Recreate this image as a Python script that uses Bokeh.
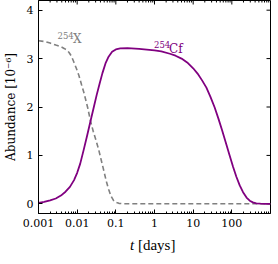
import math
from bokeh.plotting import figure
from bokeh.layouts import column
from bokeh.models import FixedTicker, Label, Div
from bokeh.embed import file_html
from bokeh.resources import INLINE

# ---- data ----
t_x = [0.001, 0.0015, 0.002, 0.0028, 0.0037, 0.0046, 0.0053, 0.0061, 0.0071,
       0.0082, 0.0095, 0.0111, 0.013, 0.0149, 0.017, 0.0188, 0.022, 0.026,
       0.031, 0.036, 0.042, 0.049, 0.057, 0.065, 0.075, 0.087, 0.1, 0.12,
       0.15, 0.2, 1000]
ab_x = [3.37, 3.35, 3.32, 3.28, 3.25, 3.21, 3.18, 3.13, 3.05,
        2.93, 2.80, 2.65, 2.46, 2.30, 2.12, 1.98, 1.72, 1.50,
        1.30, 1.12, 0.90, 0.68, 0.46, 0.30, 0.16, 0.07, 0.03, 0.01,
        0.003, 0.0, 0.0]

t_cf = [0.001, 0.0014, 0.002, 0.0028, 0.0038, 0.005, 0.0065, 0.0083, 0.01,
        0.012, 0.0148, 0.018, 0.022, 0.027, 0.032, 0.038, 0.045, 0.054,
        0.065, 0.08, 0.1, 0.13, 0.2, 0.4, 1, 1.5, 2.5, 3.5, 5, 7, 10, 13,
        17, 22, 28, 36, 45, 56, 70, 87, 108, 131, 160, 195, 240, 290, 350,
        430, 550, 750, 1000]
ab_cf = [0.02, 0.04, 0.07, 0.11, 0.17, 0.25, 0.35, 0.49, 0.64,
         0.83, 1.12, 1.40, 1.70, 2.00, 2.25, 2.48, 2.70, 2.90,
         3.04, 3.14, 3.19, 3.21, 3.215, 3.20, 3.17, 3.15, 3.10, 3.06, 3.00,
         2.92, 2.80, 2.69, 2.55, 2.40, 2.21, 1.99, 1.76, 1.52, 1.26, 1.01,
         0.76, 0.56, 0.38, 0.24, 0.13, 0.065, 0.03, 0.011, 0.003, 0.0, 0.0]

x_ticks = [0.001, 0.01, 0.1, 1, 10, 100]
x_tick_labels = ["0.001", "0.01", "0.1", "1", "10", "100"]
y_ticks = [0, 1, 2, 3, 4]
x_lim = (0.001, 1000)
y_lim = (-0.2, 4.2)

FONT = "DejaVu Serif"
PURPLE = "#800080"
GREY = "#808080"

minor = [m * d for d in [0.001, 0.01, 0.1, 1, 10, 100] for m in range(2, 10)]

p = figure(frame_width=232, frame_height=213, x_axis_type="log",
           x_range=x_lim, y_range=y_lim,
           output_backend="svg", toolbar_location=None,
           min_border_left=30, min_border_right=8, min_border_top=0,
           min_border_bottom=19)
p.background_fill_color = "white"
p.border_fill_color = "white"
p.outline_line_color = "black"
p.outline_line_width = 1
p.xgrid.visible = False
p.ygrid.visible = False

xt = FixedTicker(ticks=x_ticks, minor_ticks=minor)
yt = FixedTicker(ticks=y_ticks, minor_ticks=[])

for ax, tk in ((p.xaxis[0], xt), (p.yaxis[0], yt)):
    ax.ticker = tk
    ax.major_tick_in = 4
    ax.major_tick_out = 0
    ax.minor_tick_in = 2
    ax.minor_tick_out = 0
    ax.axis_line_color = "black"
    ax.major_tick_line_color = "black"
    ax.minor_tick_line_color = "black"
    ax.major_label_text_font = FONT
    ax.major_label_text_font_size = "11px"
    ax.major_label_text_color = "black"
    ax.major_label_standoff = 5

p.xaxis[0].major_label_overrides = dict(zip(x_ticks, x_tick_labels))
p.yaxis[0].axis_label = "Abundance [10\u207b\u2076]"
p.yaxis[0].axis_label_text_font = FONT
p.yaxis[0].axis_label_text_font_size = "12px"
p.yaxis[0].axis_label_text_font_style = "normal"
p.yaxis[0].axis_label_text_color = "black"
p.yaxis[0].axis_label_standoff = 6

# mirrored inward ticks on top and right (half of each dash is clipped away)
p.scatter(x_ticks, [y_lim[1]] * len(x_ticks), marker="dash", angle=math.pi / 2,
          size=8, line_color="black", line_width=1)
p.scatter(minor, [y_lim[1]] * len(minor), marker="dash", angle=math.pi / 2,
          size=4, line_color="black", line_width=1)
p.scatter([x_lim[1]] * len(y_ticks), y_ticks, marker="dash",
          size=8, line_color="black", line_width=1)

p.line(t_x, ab_x, line_color=GREY, line_width=1.6, line_dash="5 3")
p.line(t_cf, ab_cf, line_color=PURPLE, line_width=1.8)

def lab(x, y, text, size, color):
    p.add_layout(Label(x=x, y=y, text=text, text_font=FONT,
                       text_font_size=size, text_color=color,
                       text_baseline="alphabetic", text_align="left"))

lab(0.0031, 3.48, "254", "8.5px", GREY)
lab(0.0078, 3.40, "X", "12px", GREY)
lab(0.97, 3.29, "254", "8.5px", PURPLE)
lab(2.37, 3.19, "Cf", "12px", PURPLE)

xlabel = Div(text="<i>t</i> [days]", width=270, height=24,
             styles={"font-family": "'Liberation Serif', serif",
                     "font-size": "15px", "color": "black",
                     "padding-left": "130px", "padding-top": "5px",
                     "line-height": "16px", "margin": "0"})

open("out.html", "w").write(file_html(column(p, xlabel, spacing=0), INLINE))
